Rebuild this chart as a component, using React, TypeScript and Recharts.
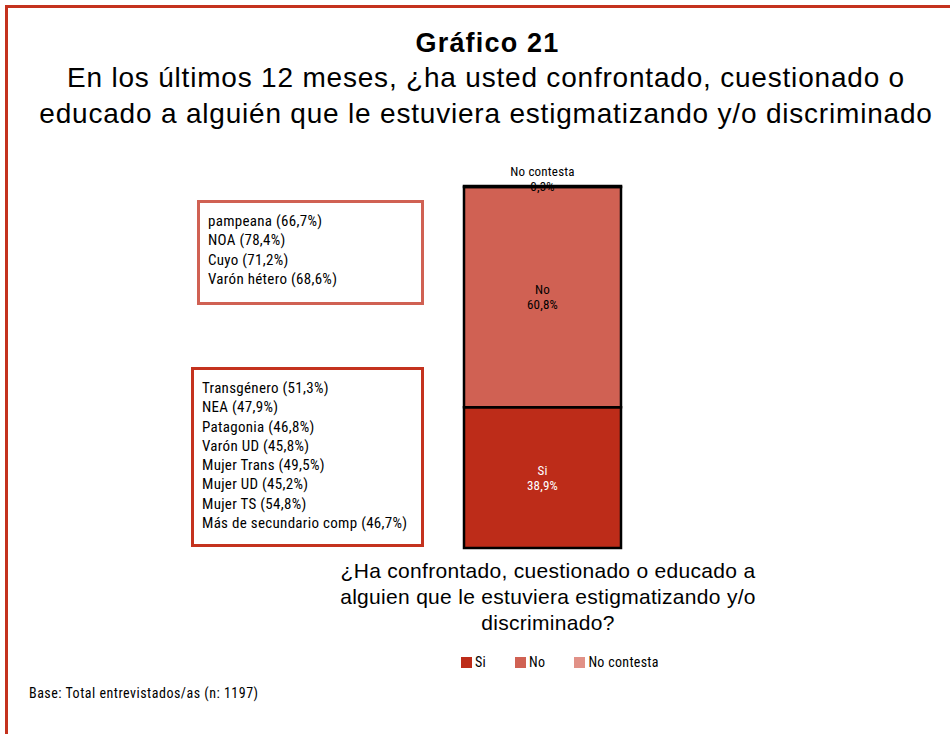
import { Bar, BarChart, LabelList, Legend, XAxis, YAxis } from 'recharts'

const categories = ['Total']
const seriesNames = ['Si', 'No', 'No contesta']
const siValues = [38.9]
const noValues = [60.8]
const noContestaValues = [0.3]
const seriesColors = ['#bd2c19', '#d06153', '#e19187']

const highNoGroups = ['pampeana (66,7%)', 'NOA (78,4%)', 'Cuyo (71,2%)', 'Varón hétero (68,6%)']
const highSiGroups = [
	'Transgénero (51,3%)',
	'NEA (47,9%)',
	'Patagonia (46,8%)',
	'Varón UD (45,8%)',
	'Mujer Trans (49,5%)',
	'Mujer UD (45,2%)',
	'Mujer TS (54,8%)',
	'Más de secundario comp (46,7%)',
]

const data = categories.map((name, i) => ({
	name,
	si: siValues[i],
	no: noValues[i],
	nc: noContestaValues[i],
}))

const narrow = "'Liberation Sans Narrow', 'Roboto Condensed', 'DejaVu Sans Condensed', sans-serif"
const helv = "'Liberation Sans', Arial, Helvetica, sans-serif"

const fmt = (v: number) => v.toFixed(1).replace('.', ',') + '%'

const makeLabel = (label: string, color: string, above = false) => (props: any) => {
	const { x, y, width, height, value } = props
	const cx = x + width / 2
	const y1 = above ? y - 10 : y + height / 2 - 3
	const y2 = above ? y + 5 : y + height / 2 + 12
	return (
		<g fontFamily={narrow} fontSize={13} letterSpacing={0.2} fill={color}>
			<text x={cx} y={y1} textAnchor="middle">
				{label}
			</text>
			<text x={cx} y={y2} textAnchor="middle">
				{fmt(value)}
			</text>
		</g>
	)
}

// legend drawn in the series order, not alphabetically
const renderLegend = (props: any) => {
	const items = [...(props.payload || [])].sort(
		(a: any, b: any) => seriesNames.indexOf(a.value) - seriesNames.indexOf(b.value),
	)
	return (
		<div style={{ display: 'flex', justifyContent: 'flex-start', fontFamily: narrow, fontSize: 14, letterSpacing: 0.3 }}>
			{items.map((it: any) => (
				<div key={it.value} style={{ display: 'flex', alignItems: 'center', marginRight: 29 }}>
					<span style={{ display: 'inline-block', width: 11, height: 11, background: it.color, marginRight: 3 }} />
					<span>{it.value}</span>
				</div>
			))}
		</div>
	)
}

const NoteBox = ({ lines, left, top, width, height, color, padLeft }: any) => (
	<div
		style={{
			position: 'absolute',
			left,
			top,
			width,
			height,
			boxSizing: 'border-box',
			border: `3px solid ${color}`,
			padding: `9px 0 0 ${padLeft}px`,
			fontFamily: narrow,
			fontSize: 15,
			letterSpacing: 0.3,
			lineHeight: '19.3px',
			color: '#000',
		}}
	>
		{lines.map((l: string) => (
			<div key={l}>{l}</div>
		))}
	</div>
)

export default function App() {
	return (
		<div style={{ position: 'absolute', left: 0, top: 0, width: 950, height: 734, overflow: 'hidden', background: '#fff' }}>
			<div
				style={{
					position: 'absolute',
					left: 5,
					top: 5,
					width: 980,
					height: 780,
					border: '3px solid #c4321e',
				}}
			/>
			<div
				style={{
					position: 'absolute',
					left: 0,
					top: 28,
					width: 975,
					textAlign: 'center',
					fontFamily: helv,
					fontWeight: 'bold',
					fontSize: 27,
					letterSpacing: 1.2,
				}}
			>
				Gráfico 21
			</div>
			<div
				style={{
					position: 'absolute',
					left: 0,
					top: 60,
					width: 972,
					textAlign: 'center',
					fontFamily: helv,
					fontSize: 28,
					letterSpacing: 0.8,
					lineHeight: '36px',
				}}
			>
				En los últimos 12 meses, ¿ha usted confrontado, cuestionado o
				<br />
				educado a alguién que le estuviera estigmatizando y/o discriminado
			</div>

			<NoteBox lines={highNoGroups} left={197} top={200} width={227} height={105} color="#d06153" padLeft={8} />
			<NoteBox lines={highSiGroups} left={191} top={367} width={233} height={180} color="#c4321e" padLeft={8} />

			<div style={{ position: 'absolute', left: 0, top: 0 }}>
				<BarChart width={950} height={734} data={data} margin={{ top: 186, bottom: 170, left: 343, right: 208 }} barSize={157}>
					<XAxis dataKey="name" hide />
					<YAxis hide domain={[0, 100]} />
					<Legend
						verticalAlign="bottom"
						content={renderLegend}
						wrapperStyle={{ left: 461, width: 240, top: 654 }}
					/>
					<Bar dataKey="si" name={seriesNames[0]} stackId="a" fill={seriesColors[0]} stroke="#000" strokeWidth={2.5} isAnimationActive={false}>
						<LabelList dataKey="si" content={makeLabel('Si', '#fff')} />
					</Bar>
					<Bar dataKey="no" name={seriesNames[1]} stackId="a" fill={seriesColors[1]} stroke="#000" strokeWidth={2.5} isAnimationActive={false}>
						<LabelList dataKey="no" content={makeLabel('No', '#000')} />
					</Bar>
					<Bar dataKey="nc" name={seriesNames[2]} stackId="a" fill={seriesColors[2]} stroke="#000" strokeWidth={2.5} isAnimationActive={false}>
						<LabelList dataKey="nc" content={makeLabel('No contesta', '#000', true)} />
					</Bar>
				</BarChart>
			</div>

			<div
				style={{
					position: 'absolute',
					left: 290,
					top: 558,
					width: 516,
					textAlign: 'center',
					fontFamily: helv,
					fontSize: 21,
					letterSpacing: 0.3,
					lineHeight: '26px',
				}}
			>
				¿Ha confrontado, cuestionado o educado a
				<br />
				alguien que le estuviera estigmatizando y/o
				<br />
				discriminado?
			</div>

			<div style={{ position: 'absolute', left: 29, top: 685, fontFamily: narrow, fontSize: 14, letterSpacing: 0.5 }}>
				Base: Total entrevistados/as (n: 1197)
			</div>
		</div>
	)
}
